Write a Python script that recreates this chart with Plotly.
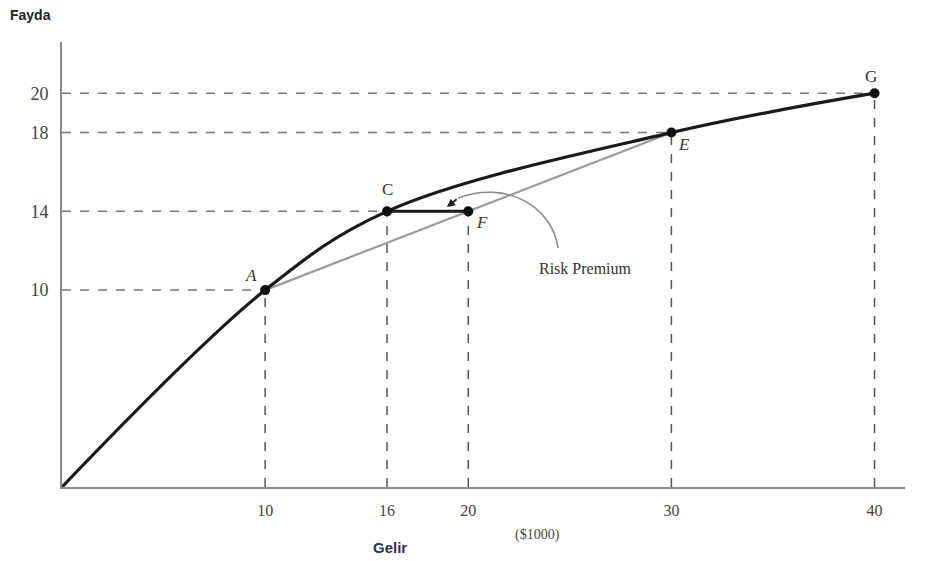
import plotly.graph_objects as go

# Utility curve (income in $1000, utility)
curve_x = [0, 10, 16, 30, 40]
curve_y = [0, 10, 14, 18, 20]

# Labeled points
pt_names = ["A", "C", "F", "E", "G"]
pt_x = [10, 16, 20, 30, 40]
pt_y = [10, 14, 14, 18, 20]

# Chord between A and E
chord_x = [10, 30]
chord_y = [10, 18]

x_ticks = [10, 16, 20, 30, 40]
y_ticks = [10, 14, 18, 20]

serif = "Liberation Serif"
fig = go.Figure()

# dashed guide lines
dash_col = "#777777"
for name, px, py in zip(pt_names, pt_x, pt_y):
    fig.add_trace(go.Scatter(x=[px, px], y=[0, py], mode="lines",
                             line=dict(color="#555555", width=1.5, dash="dash"),
                             hoverinfo="skip", showlegend=False))
    if name != "F":
        fig.add_trace(go.Scatter(x=[0, px], y=[py, py], mode="lines",
                                 line=dict(color=dash_col, width=1.5, dash="dash"),
                                 hoverinfo="skip", showlegend=False))

# chord A-E
fig.add_trace(go.Scatter(x=chord_x, y=chord_y, mode="lines",
                         line=dict(color="#9a9a9a", width=2.2),
                         hoverinfo="skip", showlegend=False))

# utility curve
fig.add_trace(go.Scatter(x=curve_x, y=curve_y, mode="lines",
                         line=dict(color="#1a1a1a", width=3.2, shape="spline", smoothing=1.0),
                         hoverinfo="skip", showlegend=False))

# C-F segment (risk premium)
fig.add_trace(go.Scatter(x=[pt_x[1], pt_x[2]], y=[pt_y[1], pt_y[2]], mode="lines",
                         line=dict(color="#1a1a1a", width=3),
                         hoverinfo="skip", showlegend=False))

# points
fig.add_trace(go.Scatter(x=pt_x, y=pt_y, mode="markers",
                         marker=dict(color="#111111", size=10),
                         hoverinfo="skip", showlegend=False))

# point labels
offsets = {"A": (-14, 15, True), "C": (0, 22, False), "F": (14, -11, True),
           "E": (13, -12, True), "G": (-4, 17, False)}
for name, px, py in zip(pt_names, pt_x, pt_y):
    dx, dy, ital = offsets[name]
    txt = f"<i>{name}</i>" if ital else name
    fig.add_annotation(x=px, y=py, text=txt, showarrow=False, xshift=dx, yshift=dy,
                       font=dict(family=serif, size=17, color="#333333"))

# Risk premium label and curved pointer
fig.add_annotation(x=25.75, y=11.1, text="Risk Premium", showarrow=False,
                   font=dict(family=serif, size=16, color="#333333"))
fig.add_shape(type="path",
              path="M 24.42,12.13 C 24.13,14.31 21.81,15.58 19.5,14.67",
              line=dict(color="#888888", width=1.5))
fig.add_annotation(x=18.95, y=14.22, ax=19.5, ay=14.67, axref="x", ayref="y",
                   text="", showarrow=True, arrowhead=2, arrowsize=0.9,
                   arrowwidth=1.8, arrowcolor="#222222")

# axis titles / units
fig.add_annotation(xref="paper", yref="paper", x=-0.064, y=1.06, xanchor="left",
                   yanchor="middle", text="<b>Fayda</b>", showarrow=False,
                   font=dict(family="Liberation Sans", size=14, color="#222222"))
fig.add_annotation(xref="paper", yref="paper", x=0.389, y=-0.137, yanchor="middle",
                   text="<b>Gelir</b>", showarrow=False,
                   font=dict(family="Liberation Sans", size=15, color="#333344"))
fig.add_annotation(xref="paper", yref="paper", x=0.5635, y=-0.108, yanchor="middle",
                   text="($1000)", showarrow=False,
                   font=dict(family=serif, size=14, color="#444444"))

fig.update_xaxes(range=[0, 41.5], tickvals=x_ticks, ticktext=[str(v) for v in x_ticks],
                 showgrid=False, zeroline=False, showline=True, linecolor="#8a8a8a",
                 linewidth=2, ticks="", tickfont=dict(family=serif, size=16, color="#444444"),
                 ticklabelstandoff=8)
fig.update_yaxes(range=[0, 22.6], tickvals=y_ticks, ticktext=[str(v) for v in y_ticks],
                 showgrid=False, zeroline=False, showline=True, linecolor="#8a8a8a",
                 linewidth=2, ticks="", tickfont=dict(family=serif, size=18, color="#444444"),
                 ticklabelstandoff=8)

fig.update_layout(width=925, height=553, plot_bgcolor="white", paper_bgcolor="white",
                  margin=dict(l=54, r=28, t=34, b=74), showlegend=False)

fig.write_html("out.html")
